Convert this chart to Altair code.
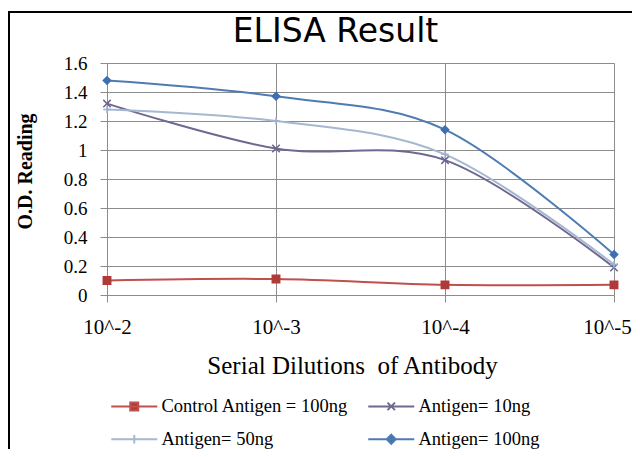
import altair as alt
import pandas as pd

# ---- data ----
dilutions = ["10^-2", "10^-3", "10^-4", "10^-5"]
series_names = ["Control Antigen = 100ng", "Antigen= 10ng", "Antigen= 50ng", "Antigen= 100ng"]
control = [0.10, 0.11, 0.07, 0.07]
antigen_10 = [1.32, 1.01, 0.93, 0.19]
antigen_50 = [1.28, 1.20, 0.97, 0.21]
antigen_100 = [1.48, 1.37, 1.14, 0.28]
y_ticks = [0, 0.2, 0.4, 0.6, 0.8, 1.0, 1.2, 1.4, 1.6]

# ---- styles ----
line_colors = ["#c0504d", "#6f6890", "#a6b7d0", "#4f7bb3"]
marker_colors = ["#b03a38", "#6a6390", "#9fb2cd", "#3f6fb0"]
marker_paths = [
    "M-1,-1H1V1H-1Z",
    "M-1,-1L1,1M-1,1L1,-1",
    "M-1,0H1M0,-1V1",
    "M0,-1L1,0L0,1L-1,0Z",
]
# legend glyphs: a short line with the marker in its middle
legend_paths = [
    "M-4.6,0H4.6M-0.8,-0.8H0.8V0.8H-0.8Z",
    "M-4.6,0H4.6M-0.75,-0.75L0.75,0.75M-0.75,0.75L0.75,-0.75",
    "M-4.6,0H4.6M0,-0.85V0.85",
    "M-4.6,0H4.6M0,-0.9L0.9,0L0,0.9L-0.9,0Z",
]

rows = []
for name, vals in zip(series_names, [control, antigen_10, antigen_50, antigen_100]):
    for i, (d, v) in enumerate(zip(dilutions, vals)):
        rows.append({"Series": name, "Dilution": d, "idx": i, "OD": v})
df = pd.DataFrame(rows)

GRID = "#8c8c8c"
SERIF = "Liberation Serif"

x_enc = alt.X(
    "Dilution:N",
    sort=dilutions,
    scale=alt.Scale(type="point", padding=0, domain=dilutions),
    axis=alt.Axis(
        title="Serial Dilutions\u00a0 of Antibody",
        labelAngle=0,
        labelFont=SERIF,
        labelFontSize=21,
        labelColor="#000000",
        labelBaseline="alphabetic",
        labelPadding=31,
        labelOffset=alt.condition(f"datum.value === '{dilutions[-1]}'", alt.value(-7), alt.value(0)),
        tickSize=7,
        tickColor=GRID,
        domainColor=GRID,
        grid=True,
        gridColor=GRID,
        titleFont=SERIF,
        titleFontSize=25,
        titleFontWeight="normal",
        titleColor="#000000",
        titleX=245,
        titleY=78,
        titleBaseline="alphabetic",
        titleAlign="center",
    ),
)

y_enc = alt.Y(
    "OD:Q",
    scale=alt.Scale(domain=[0, 1.6], nice=False),
    axis=alt.Axis(
        title="O.D. Reading",
        values=y_ticks,
        format="~g",
        labelFont=SERIF,
        labelFontSize=19,
        labelColor="#000000",
        labelPadding=13,
        tickSize=7,
        tickColor=GRID,
        domainColor=GRID,
        grid=True,
        gridColor=GRID,
        titleFont=SERIF,
        titleFontSize=20,
        titleFontWeight="bold",
        titleColor="#000000",
        titleAngle=270,
        titleX=-82,
        titleY=108,
        titleAlign="center",
        titleBaseline="middle",
    ),
)

base = alt.Chart(df)

lines = base.mark_line(interpolate="cardinal", strokeWidth=2).encode(
    x=x_enc,
    y=y_enc,
    order=alt.Order("idx:Q"),
    color=alt.Color("Series:N", scale=alt.Scale(domain=series_names, range=line_colors), legend=None),
)

points = base.mark_point(filled=True, opacity=1, size=55, strokeWidth=1.5).encode(
    x=x_enc,
    y=y_enc,
    color=alt.Color("Series:N", scale=alt.Scale(domain=series_names, range=marker_colors), legend=None),
    stroke=alt.Stroke("Series:N", scale=alt.Scale(domain=series_names, range=marker_colors), legend=None),
    shape=alt.Shape("Series:N", scale=alt.Scale(domain=series_names, range=marker_paths), legend=None),
)

leg = alt.Legend(
    title=None,
    orient="none",
    direction="horizontal",
    legendX=18,
    legendY=334,
    columns=2,
    columnPadding=15,
    rowPadding=14,
    padding=0,
    labelFont=SERIF,
    labelFontSize=18.5,
    labelColor="#000000",
    labelOffset=18,
    labelLimit=400,
    symbolSize=100,
    symbolStrokeWidth=2,
)

legend_layer = base.transform_filter("false").mark_point(filled=True, opacity=1, strokeWidth=2).encode(
    x=x_enc,
    y=y_enc,
    color=alt.Color("Series:N", scale=alt.Scale(domain=series_names, range=marker_colors), legend=leg),
    stroke=alt.Stroke("Series:N", scale=alt.Scale(domain=series_names, range=line_colors), legend=leg),
    shape=alt.Shape("Series:N", scale=alt.Scale(domain=series_names, range=legend_paths), legend=leg),
)

frame_top = alt.Chart(pd.DataFrame({"k": [0]})).mark_rule(color="#000000", strokeWidth=2).encode(
    x=alt.value(-99), x2=alt.value(525), y=alt.value(-51)
)
frame_left = alt.Chart(pd.DataFrame({"k": [0]})).mark_rule(color="#000000", strokeWidth=2).encode(
    x=alt.value(-98), y=alt.value(-51), y2=alt.value(386)
)

chart = (
    alt.layer(frame_top, frame_left, lines, points, legend_layer)
    .resolve_scale(color="independent", stroke="independent", shape="independent")
    .properties(
        width=507,
        height=232,
        autosize=alt.AutoSizeParams(type="none"),
        padding={"left": 99, "top": 55, "right": 18, "bottom": 154},
        background="#ffffff",
        title=alt.Title(
            "ELISA Result",
            font="DejaVu Sans",
            fontSize=33,
            fontWeight="normal",
            color="#000000",
            anchor="middle",
            baseline="alphabetic",
            offset=0,
            dx=-25,
            dy=64,
        ),
    )
    .configure_view(stroke=None)
)

chart.save("out.html", embed_options={"renderer": "svg", "actions": False})
